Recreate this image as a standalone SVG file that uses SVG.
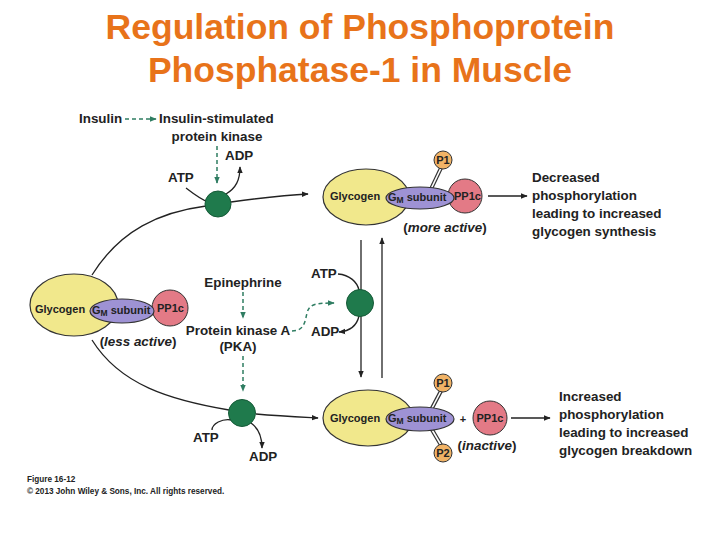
<svg xmlns="http://www.w3.org/2000/svg" width="720" height="540" viewBox="0 0 720 540">
<defs>
<style>
.t{font-family:"Liberation Sans",Arial,sans-serif;font-weight:bold;font-size:13.4px;fill:#222}
.s{font-family:"Liberation Sans",Arial,sans-serif;font-weight:bold;font-size:11px;fill:#222}
.title{font-family:"Liberation Sans",Arial,sans-serif;font-weight:bold;font-size:35.5px;fill:#E8731A;text-anchor:middle}
.ln{fill:none;stroke:#222;stroke-width:1.3}
.dash{fill:none;stroke:#2f7d62;stroke-width:1.5;stroke-dasharray:4 3}
.gly{fill:#f1e88c;stroke:#333;stroke-width:1.2}
.gm{fill:#9e92d4;stroke:#333;stroke-width:1.2}
.pp{fill:#e37a86;stroke:#333;stroke-width:1}
.p{fill:#f1b366;stroke:#333;stroke-width:1}
.enz{fill:#1f7a4c;stroke:#155a37;stroke-width:1}
.cap{font-family:"Liberation Sans",Arial,sans-serif;font-weight:bold;font-size:8.2px;fill:#222}
</style>
<marker id="ah" viewBox="0 0 10 10" refX="9" refY="5" markerWidth="7" markerHeight="7" orient="auto" markerUnits="userSpaceOnUse"><path d="M0,1 L10,5 L0,9 z" fill="#222"/></marker>
<marker id="ahg" viewBox="0 0 10 10" refX="9" refY="5" markerWidth="7" markerHeight="7" orient="auto" markerUnits="userSpaceOnUse"><path d="M0,1 L10,5 L0,9 z" fill="#2f7d62"/></marker>
</defs>
<rect width="720" height="540" fill="#fff"/>
<text class="title" x="360" y="39">Regulation of Phosphoprotein</text>
<text class="title" x="360" y="82">Phosphatase-1 in Muscle</text>

<g id="connectors">
<path class="ln" d="M92,275 C120,230 160,212 206,206" />
<path class="ln" d="M231,202 C260,198 285,195 308,194" marker-end="url(#ah)"/>
<path class="ln" d="M186,188 C195,195 202,200 210,203"/>
<path class="ln" d="M226,194 C236,188 240,180 240,167" marker-end="url(#ah)"/>
<path class="dash" d="M125,119 L156,119" marker-end="url(#ahg)"/>
<path class="dash" d="M217,146 L217,183" marker-end="url(#ahg)"/>
<path class="dash" d="M243,292 L243,318" marker-end="url(#ahg)"/>
<path class="dash" d="M243,356 L243,391" marker-end="url(#ahg)"/>
<path class="dash" d="M292,331 C304,331 305,322 307,313 C309,304 316,303 334,303" marker-end="url(#ahg)"/>
<path class="ln" d="M361,240 L361,377" marker-end="url(#ah)"/>
<path class="ln" d="M382,378 L382,238" marker-end="url(#ah)"/>
<path class="ln" d="M338,274 C350,275 357,282 359,290"/>
<path class="ln" d="M359,316 C357,325 350,331 339,332" marker-end="url(#ah)"/>
<path class="ln" d="M92,340 C120,385 170,400 229,410"/>
<path class="ln" d="M256,414 C280,416 300,417 318,418" marker-end="url(#ah)"/>
<path class="ln" d="M212,430 C212,424 222,418 232,420"/>
<path class="ln" d="M251,423 C258,428 262,436 262,448" marker-end="url(#ah)"/>
<path class="ln" d="M488,196 L527,196" marker-end="url(#ah)"/>
<path class="ln" d="M511,418 L550,418" marker-end="url(#ah)"/>
</g>

<g id="enzyme-top"><circle class="enz" cx="218" cy="204" r="13"/></g>
<g id="enzyme-mid"><circle class="enz" cx="360" cy="303" r="13.5"/></g>
<g id="enzyme-bottom"><circle class="enz" cx="242" cy="413" r="13.5"/></g>

<g id="labels">
<text class="t" x="79" y="123">Insulin</text>
<text class="t" x="159" y="123">Insulin-stimulated</text>
<text class="t" x="217" y="141" text-anchor="middle">protein kinase</text>
<text class="t" x="225" y="160">ADP</text>
<text class="t" x="168" y="182">ATP</text>
<text class="t" x="243" y="287" text-anchor="middle">Epinephrine</text>
<text class="t" x="238" y="335" text-anchor="middle">Protein kinase A</text>
<text class="t" x="238" y="351" text-anchor="middle">(PKA)</text>
<text class="t" x="311" y="278">ATP</text>
<text class="t" x="311" y="336">ADP</text>
<text class="t" x="193" y="442">ATP</text>
<text class="t" x="249" y="461">ADP</text>
<text class="t" x="532" y="182">Decreased</text>
<text class="t" x="532" y="200">phosphorylation</text>
<text class="t" x="532" y="218">leading to increased</text>
<text class="t" x="532" y="236">glycogen synthesis</text>
<text class="t" x="559" y="401">Increased</text>
<text class="t" x="559" y="419">phosphorylation</text>
<text class="t" x="559" y="437">leading to increased</text>
<text class="t" x="559" y="455">glycogen breakdown</text>
</g>

<g id="complex-left">
<ellipse class="gly" cx="74" cy="305" rx="44" ry="31"/>
<text class="s" x="35" y="313">Glycogen</text>
<circle class="pp" cx="170" cy="308" r="18"/>
<ellipse class="gm" cx="122" cy="311" rx="32" ry="12"/>
<text class="s" x="92" y="314">G<tspan font-size="8.5" dy="2">M</tspan><tspan dy="-2"> subunit</tspan></text>
<text class="s" x="157" y="312">PP1c</text>
<text class="t" x="138" y="346" text-anchor="middle">(<tspan font-style="italic">less active</tspan>)</text>
</g>

<g id="complex-top">
<ellipse class="gly" cx="366" cy="197" rx="43" ry="28"/>
<line x1="441" y1="168" x2="431" y2="189" stroke="#333" stroke-width="4"/>
<line x1="441" y1="168" x2="431" y2="189" stroke="#fff" stroke-width="1.6"/>
<circle class="p" cx="443" cy="160" r="9"/>
<text class="s" x="443" y="164" text-anchor="middle">P1</text>
<circle class="pp" cx="465" cy="196" r="17"/>
<ellipse class="gm" cx="420" cy="198" rx="34" ry="11"/>
<text class="s" x="330" y="200">Glycogen</text>
<text class="s" x="388" y="201">G<tspan font-size="8.5" dy="2">M</tspan><tspan dy="-2"> subunit</tspan></text>
<text class="s" x="454" y="200">PP1c</text>
<text class="t" x="445" y="232" text-anchor="middle">(<tspan font-style="italic">more active</tspan>)</text>
</g>

<g id="complex-bottom">
<ellipse class="gly" cx="368" cy="418" rx="45" ry="28"/>
<line x1="441" y1="391" x2="431" y2="410" stroke="#333" stroke-width="4"/>
<line x1="441" y1="391" x2="431" y2="410" stroke="#fff" stroke-width="1.6"/>
<line x1="441" y1="445" x2="431" y2="428" stroke="#333" stroke-width="4"/>
<line x1="441" y1="445" x2="431" y2="428" stroke="#fff" stroke-width="1.6"/>
<circle class="p" cx="443" cy="383" r="9"/>
<text class="s" x="443" y="387" text-anchor="middle">P1</text>
<circle class="p" cx="443" cy="453" r="9"/>
<text class="s" x="443" y="457" text-anchor="middle">P2</text>
<ellipse class="gm" cx="420" cy="419" rx="34" ry="12"/>
<text class="s" x="330" y="422">Glycogen</text>
<text class="s" x="388" y="422">G<tspan font-size="8.5" dy="2">M</tspan><tspan dy="-2"> subunit</tspan></text>
<text class="s" x="463" y="423" text-anchor="middle">+</text>
<circle class="pp" cx="490" cy="418" r="17"/>
<text class="s" x="490" y="422" text-anchor="middle">PP1c</text>
<text class="t" x="487" y="450" text-anchor="middle">(<tspan font-style="italic">inactive</tspan>)</text>
</g>

<g id="caption">
<text class="cap" x="27" y="482">Figure 16-12</text>
<text class="cap" x="27" y="494">© 2013 John Wiley &amp; Sons, Inc. All rights reserved.</text>
</g>
</svg>
